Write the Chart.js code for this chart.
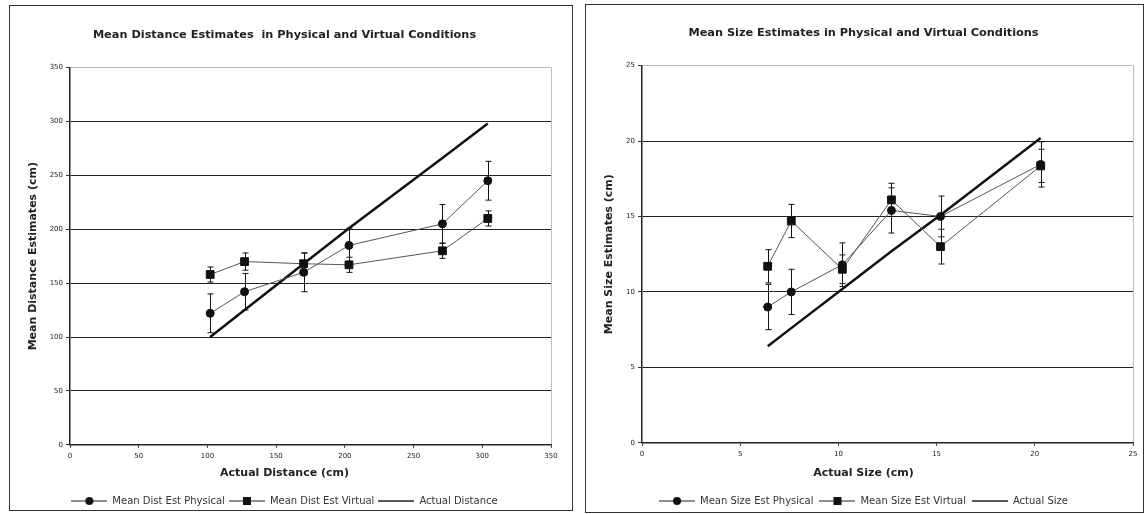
<!DOCTYPE html>
<html>
<head>
<meta charset="utf-8">
<script src="https://cdn.jsdelivr.net/npm/chart.js@4"></script>
<style>
  body { margin: 0; background: #fff; width: 1146px; height: 514px; position: relative; overflow: hidden; }
  .panel { position: absolute; border: 1px solid #333; background: #fff; }
  #panel1 { left: 9px; top: 5px; width: 562px; height: 504px; }
  #panel2 { left: 585px; top: 4px; width: 557px; height: 507px; }
  canvas { display: block; }
</style>
</head>
<body>
<div class="panel" id="panel1"><canvas id="distChart" width="562" height="504"></canvas></div>
<div class="panel" id="panel2"><canvas id="sizeChart" width="557" height="507"></canvas></div>
<script>
// distance task
var distX = [102, 127, 170, 203, 271, 304];
var distPhysical = [122, 142, 160, 185, 205, 245];
var distPhysicalErr = [18, 17, 18, 16, 18, 18];
var distVirtual = [158, 170, 168, 167, 180, 210];
var distVirtualErr = [7, 8, 10, 7, 7, 7];
var distActual = [100, 125, 168, 201, 266, 298];
var distTicks = [0, 50, 100, 150, 200, 250, 300, 350];

// size task
var sizeX = [6.4, 7.6, 10.2, 12.7, 15.2, 20.3];
var sizePhysical = [9.0, 10.0, 11.8, 15.4, 15.0, 18.45];
var sizePhysicalErr = [1.5, 1.5, 1.45, 1.5, 1.35, 1.5];
var sizeVirtual = [11.7, 14.7, 11.5, 16.1, 13.0, 18.35];
var sizeVirtualErr = [1.1, 1.1, 0.95, 1.1, 1.15, 1.1];
var sizeActual = [6.4, 7.6, 10.2, 12.7, 15.1, 20.2];
var sizeTicks = [0, 5, 10, 15, 20, 25];

Chart.defaults.font.family = "'DejaVu Sans', sans-serif";
Chart.defaults.color = '#222';

function points(xs, ys) {
    return xs.map(function (x, i) { return { x: x, y: ys[i] }; });
}

// little line+marker swatches for the legend
function legendIcon(marker, width) {
    var c = document.createElement('canvas');
    c.width = 36; c.height = 10;
    var g = c.getContext('2d');
    g.strokeStyle = '#222';
    g.lineWidth = width;
    g.beginPath(); g.moveTo(0, 5); g.lineTo(36, 5); g.stroke();
    g.fillStyle = '#111';
    if (marker === 'circle') {
        g.beginPath(); g.arc(18, 5, 4, 0, Math.PI * 2); g.fill();
    } else if (marker === 'rect') {
        g.fillRect(14, 1, 8, 8);
    }
    return c;
}

var errorBars = {
    id: 'errorBars',
    afterDatasetsDraw: function (chart) {
        var ctx = chart.ctx, x = chart.scales.x, y = chart.scales.y;
        chart.data.datasets.forEach(function (ds) {
            if (!ds.errors) return;
            ctx.save();
            ctx.strokeStyle = '#111';
            ctx.lineWidth = 1;
            ds.data.forEach(function (p, j) {
                var px = Math.round(x.getPixelForValue(p.x)) + 0.5;
                var top = y.getPixelForValue(p.y + ds.errors[j]);
                var bot = y.getPixelForValue(p.y - ds.errors[j]);
                ctx.beginPath();
                ctx.moveTo(px, top); ctx.lineTo(px, bot);
                ctx.moveTo(px - 3, top); ctx.lineTo(px + 3, top);
                ctx.moveTo(px - 3, bot); ctx.lineTo(px + 3, bot);
                ctx.stroke();
            });
            ctx.restore();
        });
    }
};

function makeChart(id, o) {
    var xMax = o.xTicks[o.xTicks.length - 1];
    var yMax = o.yTicks[o.yTicks.length - 1];
    var icons = [legendIcon('circle', 1), legendIcon('rect', 1), legendIcon('none', 1.5)];
    return new Chart(document.getElementById(id), {
        type: 'scatter',
        data: {
            datasets: [
                {
                    label: o.labels[0],
                    data: points(o.x, o.physical),
                    errors: o.physicalErr,
                    showLine: true,
                    borderColor: '#555',
                    borderWidth: 1,
                    pointStyle: 'circle',
                    pointRadius: 4,
                    pointBackgroundColor: '#111',
                    pointBorderColor: '#111'
                },
                {
                    label: o.labels[1],
                    data: points(o.x, o.virtual),
                    errors: o.virtualErr,
                    showLine: true,
                    borderColor: '#555',
                    borderWidth: 1,
                    pointStyle: 'rect',
                    pointRadius: 5.5,
                    pointBackgroundColor: '#111',
                    pointBorderColor: '#111'
                },
                {
                    label: o.labels[2],
                    data: points(o.x, o.actual),
                    showLine: true,
                    borderColor: '#111',
                    borderWidth: 2.5,
                    pointRadius: 0
                }
            ]
        },
        options: {
            responsive: false,
            animation: false,
            layout: { padding: { left: 8, right: o.padRight, top: o.padTop, bottom: o.padBottom } },
            plugins: {
                title: {
                    display: true,
                    text: o.title,
                    font: { size: 11.3, weight: 'bold' },
                    padding: { top: 12, bottom: 26 }
                },
                // x axis caption, centred on the whole panel like the title
                subtitle: {
                    display: true,
                    position: 'bottom',
                    weight: 500,
                    text: o.xTitle,
                    color: '#222',
                    font: { size: 11, weight: 'bold' },
                    padding: o.subPad
                },
                legend: {
                    position: 'bottom',
                    labels: {
                        usePointStyle: true,
                        pointStyleWidth: 36,
                        boxHeight: 10,
                        padding: o.legendPad,
                        font: { size: 10 },
                        generateLabels: function (chart) {
                            return chart.data.datasets.map(function (ds, i) {
                                return { text: ds.label, pointStyle: icons[i], datasetIndex: i, lineWidth: 0, fontColor: '#333' };
                            });
                        }
                    }
                },
                tooltip: { enabled: false }
            },
            scales: {
                x: {
                    type: 'linear',
                    min: 0, max: xMax,
                    afterBuildTicks: function (s) { s.ticks = o.xTicks.map(function (v) { return { value: v }; }); },
                    afterFit: function (s) { s.height = 22; },
                    ticks: { font: { size: 7 }, padding: 4, maxRotation: 0 },
                    grid: {
                        color: function (c) { return c.tick && c.tick.value === xMax ? '#bbb' : 'rgba(0,0,0,0)'; },
                        tickColor: '#333',
                        tickLength: 3
                    },
                    border: { color: '#222', width: 1.5 }
                },
                y: {
                    min: 0, max: yMax,
                    afterBuildTicks: function (s) { s.ticks = o.yTicks.map(function (v) { return { value: v }; }); },
                    afterFit: function (s) { s.width = o.yWidth; },
                    ticks: { font: { size: 7 }, padding: 3 },
                    grid: {
                        color: function (c) { return c.tick && c.tick.value === yMax ? '#bbb' : '#222'; },
                        tickColor: '#333',
                        tickLength: 4
                    },
                    border: { color: '#222', width: 1.5 },
                    title: { display: true, text: o.yTitle, font: { size: 11, weight: 'bold' }, padding: { top: 9, bottom: 0 } }
                }
            }
        },
        plugins: [errorBars]
    });
}

makeChart('distChart', {
    title: 'Mean Distance Estimates  in Physical and Virtual Conditions',
    xTitle: 'Actual Distance (cm)',
    yTitle: 'Mean Distance Estimates (cm)',
    labels: ['Mean Dist Est Physical', 'Mean Dist Est Virtual', 'Actual Distance'],
    x: distX, physical: distPhysical, physicalErr: distPhysicalErr,
    virtual: distVirtual, virtualErr: distVirtualErr, actual: distActual,
    xTicks: distTicks, yTicks: distTicks,
    yWidth: 52, padRight: 21, padTop: 10, padBottom: -6,
    subPad: { top: 0, bottom: 12 }, legendPad: 4
});

makeChart('sizeChart', {
    title: 'Mean Size Estimates in Physical and Virtual Conditions',
    xTitle: 'Actual Size (cm)',
    yTitle: 'Mean Size Estimates (cm)',
    labels: ['Mean Size Est Physical', 'Mean Size Est Virtual', 'Actual Size'],
    x: sizeX, physical: sizePhysical, physicalErr: sizePhysicalErr,
    virtual: sizeVirtual, virtualErr: sizeVirtualErr, actual: sizeActual,
    xTicks: sizeTicks, yTicks: sizeTicks,
    yWidth: 48, padRight: 10, padTop: 9, padBottom: -4,
    subPad: { top: 2, bottom: 10 }, legendPad: 6
});
</script>
</body>
</html>
